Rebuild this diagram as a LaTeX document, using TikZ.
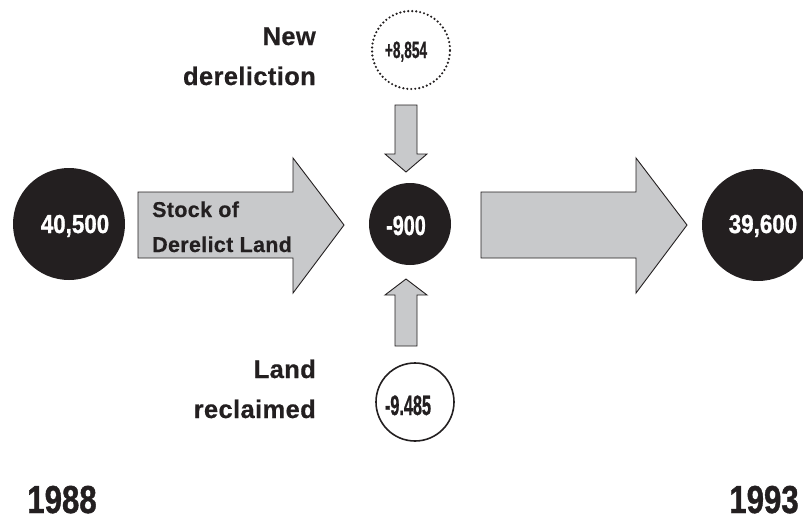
\documentclass[tikz,border=0pt]{standalone}
\usepackage{fontspec}
\setmainfont{Liberation Sans}
\newfontfamily\heavyfont[FakeBold=1.2]{Liberation Sans Bold}
\newfontfamily\labelfont[FakeBold=0.5,LetterSpace=1.5]{Liberation Sans Bold}
\definecolor{ink}{RGB}{35,31,32}
\definecolor{arrowgray}{RGB}{200,201,203}
\newcommand{\cnum}[2]{\scalebox{#1}[1]{#2}}
\begin{document}
\begin{tikzpicture}[x=1pt,y=-1pt,
  blockarrow/.style={draw=ink, line width=0.9pt, fill=arrowgray, line join=miter},
  bigdisc/.style={circle, fill=ink, draw=none, inner sep=0pt},
  numtext/.style={text=white, inner sep=0pt, anchor=base},
  blacknum/.style={text=ink, inner sep=0pt, anchor=base},
  label/.style={text=ink, inner sep=0pt, font=\fontsize{25.5}{25.5}\selectfont\labelfont},
  stocklabel/.style={text=ink, inner sep=0pt, anchor=base west, font=\fontsize{21.5}{21.5}\selectfont\labelfont},
  yearlabel/.style={text=ink, inner sep=0pt, anchor=base, font=\fontsize{39}{39}\selectfont\heavyfont}
]
\useasboundingbox (0,0) rectangle (803,520);
\clip (0,0) rectangle (803,520);
\fill[white] (0,0) rectangle (803,520);

% block arrows
\draw[blockarrow] (138,192) -- (293,192) -- (293,158) -- (344,225) -- (293,293) -- (293,258) -- (138,258) -- cycle;
\draw[blockarrow] (481,192) -- (636,192) -- (636,158) -- (687,225) -- (636,293) -- (636,258) -- (481,258) -- cycle;
\draw[blockarrow] (395,105) -- (417,105) -- (417,154) -- (427,154) -- (406,172) -- (385,154) -- (395,154) -- cycle;
\draw[blockarrow] (395,346) -- (417,346) -- (417,295) -- (427,295) -- (406,279) -- (385,295) -- (395,295) -- cycle;

% discs
\node[bigdisc, minimum size=112pt] (start) at (69,224) {};
\node[numtext, font=\fontsize{26}{26}\selectfont\heavyfont] (starttxt) at (75,233) {\cnum{0.86}{40,500}};
\node[bigdisc, minimum size=112pt] (finish) at (758,225) {};
\node[numtext, font=\fontsize{26}{26}\selectfont\heavyfont] (finishtxt) at (763,233) {\cnum{0.86}{39,600}};
\node[bigdisc, minimum size=82pt] (net) at (410,224) {};
\node[numtext, font=\fontsize{27.5}{27.5}\selectfont\heavyfont] (nettxt) at (406,235) {\cnum{0.72}{-900}};

% new dereliction circle (dotted)
\node[circle, minimum size=78pt, inner sep=0pt, draw=ink, line width=2.4pt, line cap=round, dash pattern=on 0pt off 4pt] (newd) at (411,50) {};
\node[blacknum, font=\fontsize{23.5}{23.5}\selectfont\heavyfont] (newdtxt) at (406,58) {\cnum{0.58}{+8,854}};

% land reclaimed circle
\node[circle, minimum size=78pt, inner sep=0pt, draw=ink, line width=1.6pt] (recl) at (415,402) {};
\node[blacknum, font=\fontsize{28}{28}\selectfont\heavyfont] (recltxt) at (408,415) {\cnum{0.58}{-9.485}};

% labels
\node[label, anchor=base east] (l1) at (316,45) {New};
\node[label, anchor=base east] (l2) at (316,85) {dereliction};
\node[label, anchor=base east] (l3) at (316,378) {Land};
\node[label, anchor=base east] (l4) at (316,418) {reclaimed};
\node[stocklabel] (s1) at (152,217) {Stock of};
\node[stocklabel] (s2) at (152,252) {Derelict Land};

% years
\node[yearlabel] (y1) at (62,513) {\cnum{0.8}{1988}};
\node[yearlabel] (y2) at (764,513) {\cnum{0.8}{1993}};
\end{tikzpicture}
\end{document}
